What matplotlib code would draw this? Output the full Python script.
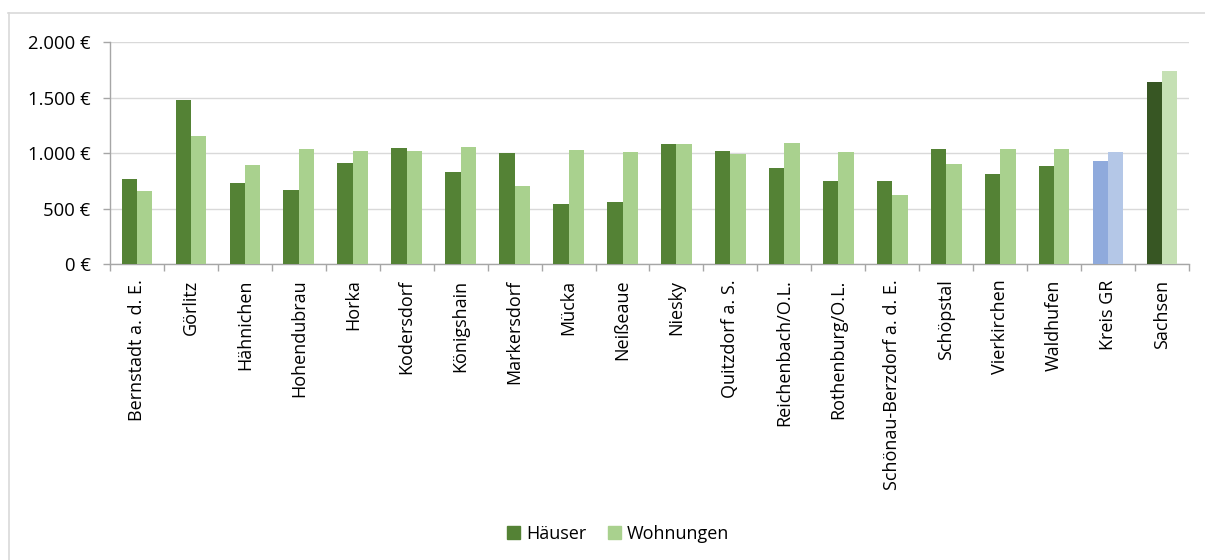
import matplotlib
matplotlib.use("Agg")
from matplotlib import pyplot as plt
from matplotlib.lines import Line2D
from matplotlib.patches import Patch
from matplotlib.ticker import FuncFormatter, FixedLocator
import numpy as np

orte = ["Bernstadt a. d. E.", "Görlitz", "Hähnichen", "Hohendubrau", "Horka",
        "Kodersdorf", "Königshain", "Markersdorf", "Mücka", "Neißeaue", "Niesky",
        "Quitzdorf a. S.", "Reichenbach/O.L.", "Rothenburg/O.L.",
        "Schönau-Berzdorf a. d. E.", "Schöpstal", "Vierkirchen", "Waldhufen",
        "Kreis GR", "Sachsen"]
haeuser = [772, 1480, 730, 667, 913, 1051, 835, 1003, 547, 562, 1084,
           1018, 868, 748, 751, 1039, 814, 886, 931, 1637]
wohnungen = [661, 1153, 895, 1039, 1024, 1024, 1054, 706, 1027, 1009, 1084,
             997, 1090, 1009, 625, 904, 1039, 1039, 1012, 1742]

plt.rcParams["font.family"] = ["Open Sans", "DejaVu Sans"]


def euro(v, pos):
    return f"{v:,.0f}".replace(",", ".") + " €"


def main():
    fig = plt.figure(figsize=(12.05, 5.6), dpi=100)
    ax = fig.add_axes([0.0913, 0.528, 0.8954, 0.3967])

    # colours: municipalities green, district blue, state dark
    col_h = []
    col_w = []
    for name in orte:
        if name == "Kreis GR":
            col_h.append("#8FAADC")
            col_w.append("#B4C7E7")
        elif name == "Sachsen":
            col_h.append("#375623")
            col_w.append("#C5E0B4")
        else:
            col_h.append("#548235")
            col_w.append("#A9D18E")

    x = np.arange(len(orte))
    w = 0.285
    ax.bar(x - w / 2, haeuser, w, color=col_h, zorder=3)
    ax.bar(x + w / 2, wohnungen, w, color=col_w, zorder=3)

    ax.set_xlim(-0.5, len(orte) - 0.5)
    ax.set_ylim(0, 2000)
    ax.set_yticks([0, 500, 1000, 1500, 2000])
    ax.yaxis.set_major_formatter(FuncFormatter(euro))
    ax.grid(axis="y", color="#D9D9D9", linewidth=1, zorder=0)

    ax.set_xticks(x)
    ax.set_xticklabels(orte, rotation=90, fontsize=13, color="#000000")
    ax.tick_params(axis="x", which="major", length=0, pad=11)
    ax.xaxis.set_minor_locator(FixedLocator(np.arange(-0.5, len(orte), 1)))
    ax.tick_params(axis="x", which="minor", length=5, color="#A6A6A6", width=1)
    ax.tick_params(axis="y", length=5, color="#A6A6A6", width=1, labelsize=13.3, pad=9)

    for s in ["top", "right"]:
        ax.spines[s].set_visible(False)
    for s in ["left", "bottom"]:
        ax.spines[s].set_color("#A6A6A6")
        ax.spines[s].set_linewidth(1)

    handles = [Patch(color="#548235", label="Häuser"),
               Patch(color="#A9D18E", label="Wohnungen")]
    fig.legend(handles=handles, loc="center", bbox_to_anchor=(618 / 1205, 1 - 534 / 560),
               ncol=2, frameon=False, fontsize=13, handlelength=0.75, handleheight=0.75,
               handletextpad=0.3, columnspacing=1.2)

    # chart area border (cut off at right and bottom)
    fig.add_artist(Line2D([8 / 1205, 1.0], [1 - 13 / 560, 1 - 13 / 560],
                          color="#D9D9D9", linewidth=1.2, transform=fig.transFigure))
    fig.add_artist(Line2D([8.5 / 1205, 8.5 / 1205], [1 - 13 / 560, 0.0],
                          color="#D9D9D9", linewidth=1.2, transform=fig.transFigure))

    plt.savefig("out.png", dpi=100, facecolor="white")


if __name__ == '__main__':
    main()
